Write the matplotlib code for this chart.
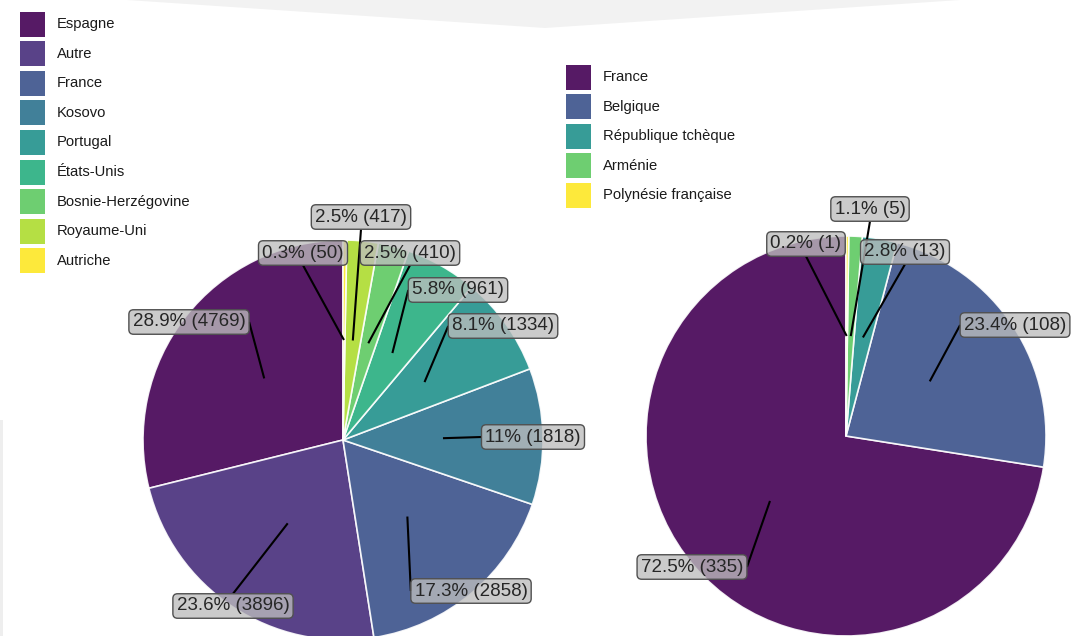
import numpy as np
import matplotlib
matplotlib.use("Agg")
import matplotlib.pyplot as plt
from matplotlib.patches import Polygon, Rectangle

plt.rcParams['font.family'] = ['Liberation Sans', 'DejaVu Sans']

# data
left_names = ['Espagne', 'Autre', 'France', 'Kosovo', 'Portugal', 'États-Unis',
              'Bosnie-Herzégovine', 'Royaume-Uni', 'Autriche']
left_counts = [4769, 3896, 2858, 1818, 1334, 961, 410, 417, 50]

right_names = ['France', 'Belgique', 'République tchèque', 'Arménie',
               'Polynésie française']
right_counts = [335, 108, 13, 5, 1]

# layout (pixels, y from top)
W, H = 1071, 636
left_center, right_center = (343, 440), (846, 436)
radius = 200
left_label_pos = [(189, 322), (233, 606), (471, 591), (533, 437), (503, 326),
                  (458, 290), (410, 253), (361, 217), (303, 253)]
right_label_pos = [(692, 567), (1015, 325), (905, 252), (870, 209), (806, 244)]


def fmt(v, total):
    p = round(100 * v / total, 1)
    return '%g%% (%d)' % (p, v)


fig = plt.figure(figsize=(W / 100, H / 100), dpi=100)
ax = fig.add_axes([0, 0, 1, 1])
ax.set_xlim(0, W)
ax.set_ylim(0, H)
ax.axis('off')

# light grey banner at the top and strip on the left
ax.add_patch(Polygon([(127, H), (545, H - 28), (960, H)], closed=True,
                     fc='#f2f2f2', ec='none', zorder=0))
ax.add_patch(Rectangle((0, 0), 3, H - 420, fc='#eeeeee', ec='none', zorder=0))


def draw_legend(names, cols, x, y_top, step=29.6, key=25):
    for i, (n, c) in enumerate(zip(names, cols)):
        yc = H - (y_top + key / 2 + i * step)
        ax.add_patch(Rectangle((x, yc - key / 2), key, key, fc=c, ec='none',
                               alpha=0.9, zorder=3))
        ax.text(x + key + 12, yc, n, ha='left', va='center', fontsize=10.6,
                color='#1a1a1a', zorder=3)


def draw_pie(counts, names, center, label_pos, legend_xy):
    cols = plt.get_cmap('viridis')(np.linspace(0, 1, len(counts)))
    cx, cy = center[0], H - center[1]
    wedges, _ = ax.pie(counts, colors=cols, startangle=90, counterclock=True,
                       center=(cx, cy), radius=radius, frame=True,
                       wedgeprops=dict(edgecolor='white', linewidth=1.2, alpha=0.9))
    total = sum(counts)
    texts = []
    for w, v, (lx, ly) in zip(wedges, counts, label_pos):
        t = ax.text(lx, H - ly, fmt(v, total), ha='center', va='center',
                    fontsize=13.5, color='#262626', zorder=5,
                    bbox=dict(boxstyle='round,pad=0.2,rounding_size=0.25',
                              fc=(0.74, 0.74, 0.74, 0.78), ec='#505050', lw=1.0))
        mid = np.deg2rad((w.theta1 + w.theta2) / 2)
        anchor = (cx + 0.5 * radius * np.cos(mid), cy + 0.5 * radius * np.sin(mid))
        texts.append((t, anchor))
    draw_legend(names, cols, *legend_xy)
    return texts


texts = draw_pie(left_counts, left_names, left_center, left_label_pos, (20, 11.5))
texts += draw_pie(right_counts, right_names, right_center, right_label_pos, (566, 64.5))
ax.set_xlim(0, W)
ax.set_ylim(0, H)

# leader segments: to the middle of the nearest box side
fig.canvas.draw()
inv = ax.transData.inverted()
for t, (axx, ayy) in texts:
    ext = t.get_bbox_patch().get_window_extent()
    (x0, y0), (x1, y1) = inv.transform([(ext.x0, ext.y0), (ext.x1, ext.y1)])
    if x0 - 2 <= axx <= x1 + 2:
        if y0 <= ayy <= y1:
            continue
        px, py = (x0 + x1) / 2, (y0 if ayy < y0 else y1)
    else:
        px, py = (x0 if axx < x0 else x1), (y0 + y1) / 2
    ax.plot([axx, px], [ayy, py], color='black', lw=1.5, zorder=4,
            solid_capstyle='butt')

fig.savefig('out.png', dpi=100)
